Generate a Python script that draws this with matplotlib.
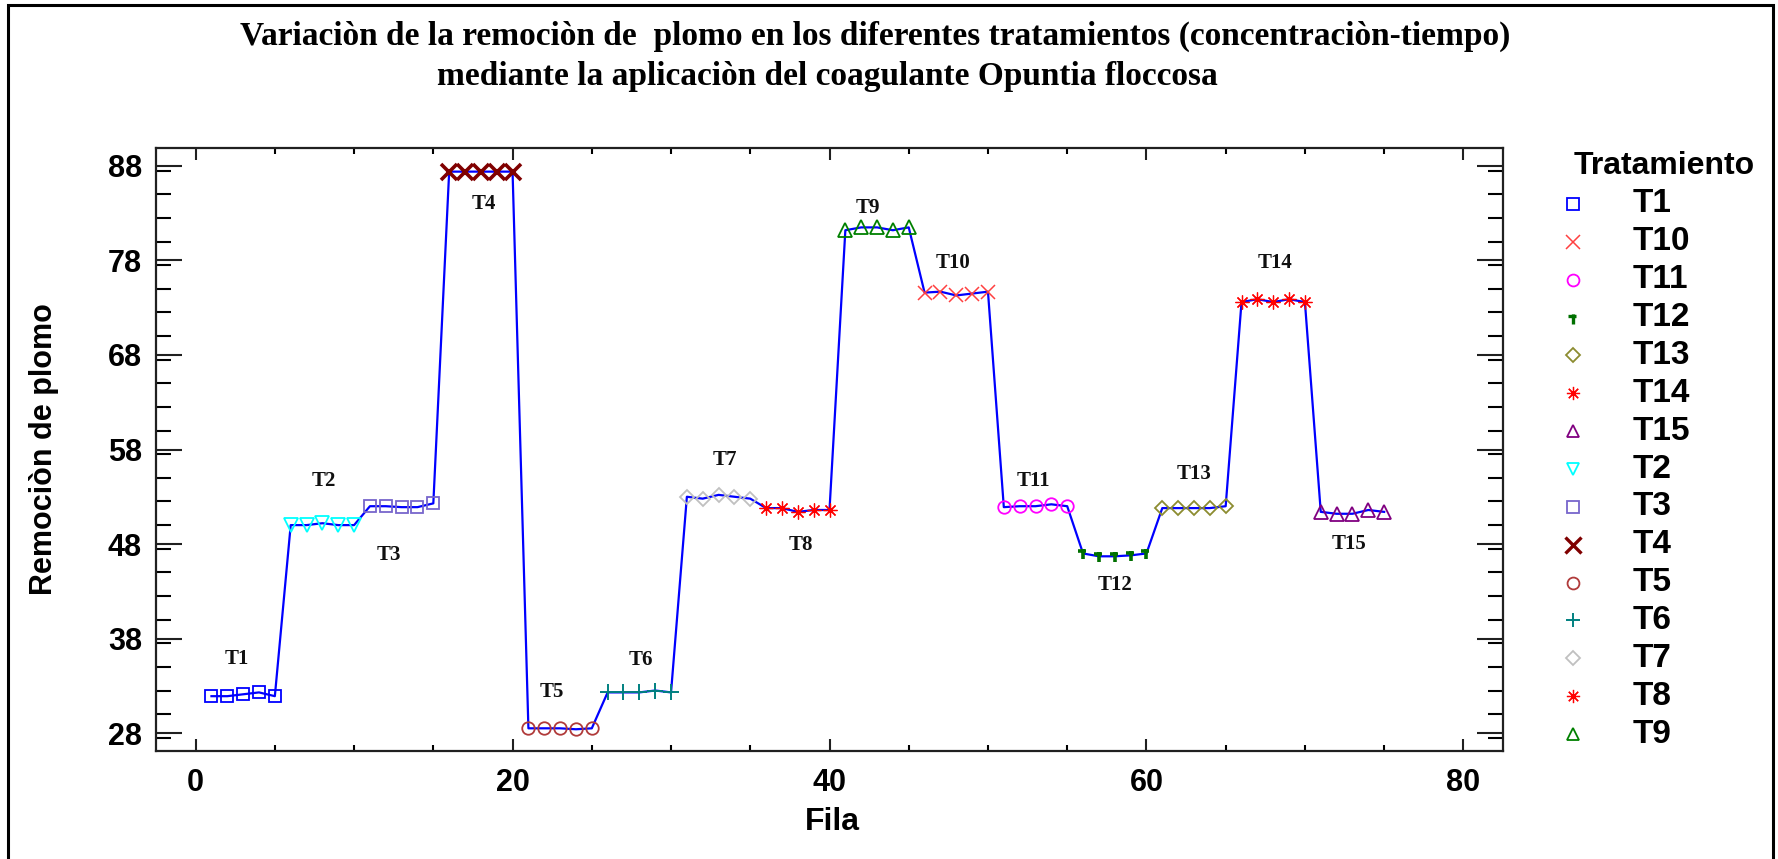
import matplotlib
matplotlib.use("Agg")
import matplotlib.pyplot as plt
from matplotlib.lines import Line2D
from matplotlib.path import Path
from matplotlib.patches import Rectangle
from matplotlib.ticker import FixedLocator, MultipleLocator

# Remoción de plomo (%) por tratamiento, cinco filas cada uno
t1 = [31.9, 31.9, 32.1, 32.3, 31.9]
t2 = [50.0, 50.0, 50.2, 50.0, 50.0]
t3 = [52.0, 52.0, 51.9, 51.9, 52.3]
t4 = [87.4, 87.4, 87.4, 87.4, 87.4]
t5 = [28.5, 28.5, 28.5, 28.4, 28.5]
t6 = [32.3, 32.3, 32.3, 32.5, 32.3]
t7 = [53.0, 52.8, 53.2, 53.0, 52.8]
t8 = [51.8, 51.8, 51.4, 51.6, 51.6]
t9 = [81.2, 81.5, 81.5, 81.2, 81.5]
t10 = [74.6, 74.7, 74.3, 74.5, 74.7]
t11 = [51.9, 52.0, 52.0, 52.2, 52.0]
t12 = [47.0, 46.7, 46.7, 46.8, 47.0]
t13 = [51.8, 51.8, 51.8, 51.8, 52.0]
t14 = [73.6, 73.9, 73.6, 73.9, 73.6]
t15 = [51.4, 51.2, 51.2, 51.6, 51.4]

tratamientos = ["T1", "T2", "T3", "T4", "T5", "T6", "T7", "T8",
                "T9", "T10", "T11", "T12", "T13", "T14", "T15"]
series = [t1, t2, t3, t4, t5, t6, t7, t8, t9, t10, t11, t12, t13, t14, t15]

# Posición de las etiquetas de cada tratamiento (Fila, Remoción)
etiquetas_xy = [(2.6, 35.8), (8.1, 54.7), (12.2, 46.8), (18.2, 84.0),
                (22.5, 32.3), (28.1, 35.7), (33.4, 56.9), (38.2, 47.9),
                (42.4, 83.6), (47.8, 77.7), (52.9, 54.7), (58.0, 43.7),
                (63.0, 55.4), (68.1, 77.7), (72.8, 48.0)]

x_ticks = [0, 20, 40, 60, 80]
y_ticks = [28, 38, 48, 58, 68, 78, 88]

# Marcador propio para T12
t12_path = Path([(0, -1.0), (0, 0.6), (-0.8, 0.35), (0.45, 0.35)],
                [Path.MOVETO, Path.LINETO, Path.MOVETO, Path.LINETO])

estilos = {
    "T1": dict(marker="s", color="#0000FF", ms=8.5, mew=1.3),
    "T2": dict(marker="v", color="#00FFFF", ms=9.5, mew=1.3),
    "T3": dict(marker="s", color="#7766CC", ms=8.5, mew=1.3),
    "T4": dict(marker="x", color="#800000", ms=11.5, mew=2.6),
    "T5": dict(marker="o", color="#B03A3A", ms=9, mew=1.3),
    "T6": dict(marker="+", color="#008080", ms=11, mew=1.4),
    "T7": dict(marker="D", color="#C0C0C0", ms=7.5, mew=1.3),
    "T8": dict(marker=(8, 2, 0), color="#FF0000", ms=10, mew=0.9),
    "T9": dict(marker="^", color="#008000", ms=9.5, mew=1.3),
    "T10": dict(marker="x", color="#FF4040", ms=10, mew=1.1),
    "T11": dict(marker="o", color="#FF00FF", ms=9, mew=1.3),
    "T12": dict(marker=t12_path, color="#007000", ms=9, mew=2.6),
    "T13": dict(marker="D", color="#8C8C30", ms=7.5, mew=1.3),
    "T14": dict(marker=(8, 2, 0), color="#FF0000", ms=10, mew=0.9),
    "T15": dict(marker="^", color="#800080", ms=9.5, mew=1.3),
}

W, H = 1778, 859
fig = plt.figure(figsize=(W / 100, H / 100), dpi=100)
fig.patch.set_facecolor("white")

ax = fig.add_axes([156 / W, 1 - 751 / H, (1503 - 156) / W, (751 - 148) / H])

# Línea continua a lo largo de todas las filas
filas_todas = []
valores_todos = []
for i, vals in enumerate(series):
    filas = list(range(i * 5 + 1, i * 5 + 6))
    filas_todas += filas
    valores_todos += vals
ax.plot(filas_todas, valores_todos, color="#0000FF", lw=1.6, zorder=3)

for i, (nombre, vals) in enumerate(zip(tratamientos, series)):
    filas = list(range(i * 5 + 1, i * 5 + 6))
    st = estilos[nombre]
    ax.plot(filas, vals, ls="none", marker=st["marker"], ms=st["ms"],
            mec=st["color"], mfc="none", mew=st["mew"], zorder=4)
    tx, ty = etiquetas_xy[i]
    ax.text(tx, ty, nombre, ha="center", va="center",
            family="Liberation Serif", fontweight="bold", fontsize=15,
            color="#101010", zorder=5)

ax.set_xlim(-2.5, 82.5)
ax.set_ylim(26.1, 89.9)
ax.xaxis.set_major_locator(FixedLocator(x_ticks))
ax.xaxis.set_minor_locator(MultipleLocator(5))
ax.yaxis.set_major_locator(FixedLocator(y_ticks))
ax.yaxis.set_minor_locator(MultipleLocator(2.5))

for s in ax.spines.values():
    s.set_linewidth(1.6)
    s.set_color("#202020")

ax.tick_params(axis="x", which="major", direction="in", length=8.6, width=1.5,
               top=True, bottom=True, pad=12, labelsize=22, colors="#202020")
ax.tick_params(axis="x", which="minor", direction="in", length=4, width=1.5,
               top=True, bottom=True)
ax.tick_params(axis="y", which="major", direction="in", length=19, width=1.5,
               left=True, right=True, pad=10, labelsize=22, colors="#202020")
ax.tick_params(axis="y", which="minor", direction="in", length=11, width=1.5,
               left=True, right=True)
for lab in ax.get_xticklabels() + ax.get_yticklabels():
    lab.set_family("Liberation Sans")
    lab.set_fontweight("bold")
    lab.set_color("black")

ax.set_xlabel("Fila", family="Liberation Sans", fontweight="bold", fontsize=23)
ax.set_ylabel("Remociòn de plomo", family="Liberation Sans",
              fontweight="bold", fontsize=22)
ax.xaxis.label.set_va("center")
ax.yaxis.label.set_va("center")
ax.xaxis.set_label_coords(0.502, -0.118)
ax.yaxis.set_label_coords(-0.083, 0.5)

# Título en dos líneas
fig.text(875 / W, 1 - 36 / H,
         "Variaciòn de la remociòn de  plomo en los diferentes tratamientos (concentraciòn-tiempo)",
         ha="center", va="center", family="Liberation Serif",
         fontweight="bold", fontsize=24)
fig.text(827 / W, 1 - 77 / H,
         "mediante la aplicaciòn del coagulante Opuntia floccosa",
         ha="center", va="center", family="Liberation Serif",
         fontweight="bold", fontsize=24)

# Leyenda
fig.text(1664 / W, 1 - 166 / H, "Tratamiento", ha="center", va="center",
         family="Liberation Sans", fontweight="bold", fontsize=23)
orden_leyenda = sorted(tratamientos)
for k, nombre in enumerate(orden_leyenda):
    yk = 1 - (204 + k * 37.86) / H
    st = estilos[nombre]
    fig.add_artist(Line2D([1573 / W], [yk], transform=fig.transFigure,
                          ls="none", marker=st["marker"], ms=st["ms"] * 0.95,
                          mec=st["color"], mfc="none", mew=min(st["mew"], 2.4)))
    fig.text(1633 / W, yk, nombre, ha="left", va="center",
             family="Liberation Sans", fontweight="bold", fontsize=24)

# Marco exterior
fig.add_artist(Rectangle((8 / W, -0.05), (1773 - 8) / W, 1.05 - 5 / H,
                         transform=fig.transFigure, fill=False,
                         edgecolor="black", lw=2.2))

fig.savefig("out.png", dpi=100)
